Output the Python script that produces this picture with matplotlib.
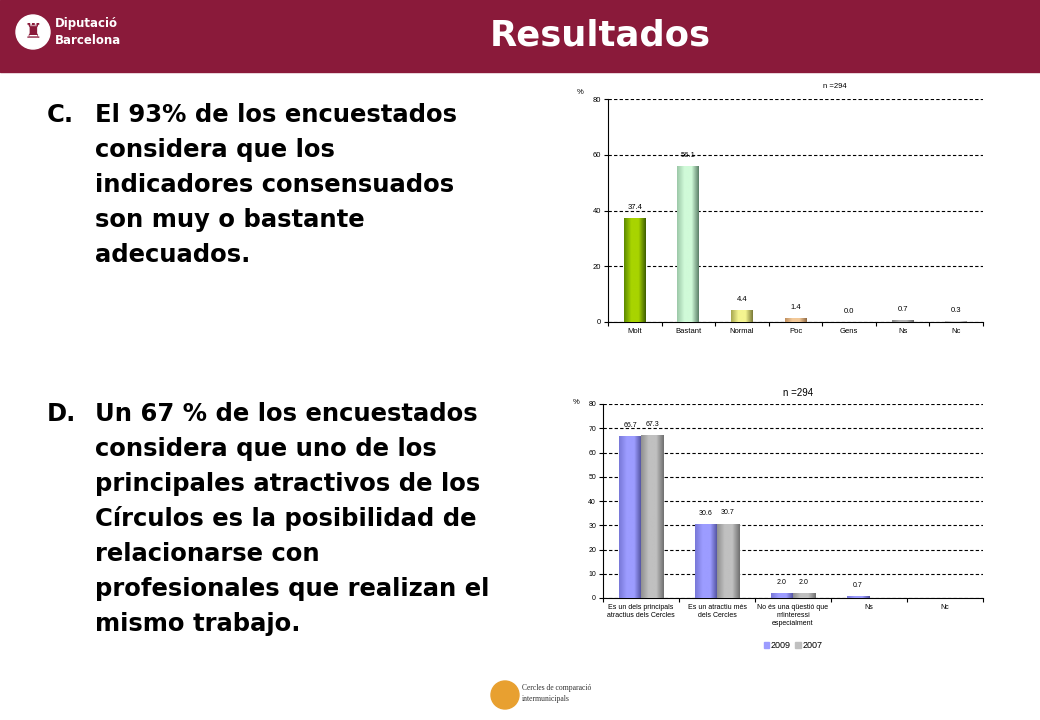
import numpy as np
import matplotlib
matplotlib.use("Agg")
import matplotlib.pyplot as plt
from matplotlib.colors import LinearSegmentedColormap
from matplotlib.patches import Rectangle, Circle

plt.rcParams["font.family"] = ["Liberation Sans", "DejaVu Sans"]

W, H = 1040, 720

# --- data ---
adec_cats = ["Molt", "Bastant", "Normal", "Poc", "Gens", "Ns", "Nc"]
adec_vals = [37.4, 56.1, 4.4, 1.4, 0.0, 0.7, 0.3]
adec_labels = ["37.4", "56.1", "4.4", "1.4", "0.0", "0.7", "0.3"]

atr_cats = ["Es un dels principals\natractius dels Cercles",
            "Es un atractiu més\ndels Cercles",
            "No és una qüestió que\nm'interessi\nespecialment",
            "Ns", "Nc"]
atr_2009 = [66.7, 30.6, 2.0, 0.7, np.nan]
atr_2007 = [67.3, 30.7, 2.0, np.nan, np.nan]

text_c = ["El 93% de los encuestados",
          "considera que los",
          "indicadores consensuados",
          "son muy o bastante",
          "adecuados."]
text_d = ["Un 67 % de los encuestados",
          "considera que uno de los",
          "principales atractivos de los",
          "Círculos es la posibilidad de",
          "relacionarse con",
          "profesionales que realizan el",
          "mismo trabajo."]

# gradient colours (left edge, centre, right edge) per bar
adec_colors = [("#5c8a00", "#a8d400", "#3e5e00"),
               ("#9cc8a8", "#d0fad8", "#5c8068"),
               ("#a8a850", "#f4f490", "#7a7a38"),
               ("#c09060", "#f2c898", "#906a44"),
               ("#909090", "#c0c0c0", "#707070"),
               ("#808080", "#b0b0b0", "#606060"),
               ("#b0b0b0", "#d8d8d8", "#909090")]
col_2009 = ("#7878d8", "#9c9cff", "#4c4c98")
col_2007 = ("#909090", "#c0c0c0", "#707070")

BIG = ["DejaVu Sans"]


def px_axes(fig, left, top, right, bottom):
    return fig.add_axes([left / W, 1 - bottom / H, (right - left) / W, (bottom - top) / H])


def grad_bars(ax, x, vals, width, colors):
    for xi, v, c in zip(x, vals, colors):
        if np.isnan(v) or v <= 0:
            continue
        cmap = LinearSegmentedColormap.from_list("g", [c[0], c[1], c[1], c[2]])
        bar = ax.bar(xi, v, width, color=c[1], zorder=3)[0]
        im = ax.imshow(np.linspace(0, 1, 64).reshape(1, -1), cmap=cmap, aspect="auto",
                       extent=[xi - width / 2, xi + width / 2, 0, v], zorder=3.5)
        im.set_clip_path(bar)


def style_axes(ax, n, ymax, step, fs):
    ax.set_xlim(-0.5, n - 0.5)
    ax.set_ylim(0, ymax)
    ax.set_yticks(np.arange(0, ymax + 1, step))
    ax.yaxis.grid(True, linestyle=(0, (3, 2)), color="black", linewidth=0.8)
    ax.set_axisbelow(True)
    for s in ["top", "right"]:
        ax.spines[s].set_visible(False)
    ax.spines["left"].set_linewidth(0.8)
    ax.spines["bottom"].set_linewidth(0.8)
    ax.set_xticks(np.arange(n))
    ax.set_xticks(np.arange(-0.5, n), minor=True)
    ax.tick_params(axis="x", which="major", length=0, labelsize=fs, pad=4)
    ax.tick_params(axis="x", which="minor", length=3, width=0.8, direction="out")
    ax.tick_params(axis="y", length=3, width=0.8, labelsize=fs, pad=2)


def px_circle(fig, cx, cy, r, color):
    # centre and radius in pixels, so it stays round
    c = Circle((cx / 100, (H - cy) / 100), r / 100, transform=fig.dpi_scale_trans,
               color=color, zorder=1)
    fig.patches.append(c)


fig = plt.figure(figsize=(W / 100, H / 100), dpi=100)
fig.patch.set_facecolor("white")

# header band
fig.patches.append(Rectangle((0, 1 - 72 / H), 1, 72 / H, transform=fig.transFigure,
                             color="#8a1a3a", zorder=0))
fig.text(600 / W, 1 - 35 / H, "Resultados", color="white", fontsize=25.5,
         fontweight="bold", ha="center", va="center", family=BIG)
px_circle(fig, 33, 32, 17, "white")
fig.text(33 / W, 1 - 32 / H, "♜", color="#8a1a3a", fontsize=15, ha="center", va="center",
         family=["DejaVu Sans"])
fig.text(55 / W, 1 - 24 / H, "Diputació", color="white", fontsize=8.5,
         fontweight="bold", va="center", family=BIG)
fig.text(55 / W, 1 - 41 / H, "Barcelona", color="white", fontsize=8.5,
         fontweight="bold", va="center", family=BIG)

# left text blocks
FS = 17.5
for i, line in enumerate(text_c):
    if i == 0:
        fig.text(47 / W, 1 - 122 / H, "C.", fontsize=FS, fontweight="bold", va="baseline",
                 family=BIG)
    fig.text(95 / W, 1 - (122 + 35 * i) / H, line, fontsize=FS, fontweight="bold",
             va="baseline", family=BIG)
for i, line in enumerate(text_d):
    if i == 0:
        fig.text(47 / W, 1 - 421 / H, "D.", fontsize=FS, fontweight="bold", va="baseline",
                 family=BIG)
    fig.text(95 / W, 1 - (421 + 35 * i) / H, line, fontsize=FS, fontweight="bold",
             va="baseline", family=BIG)

# top chart
ax1 = px_axes(fig, 608, 99, 983, 322)
x1 = np.arange(len(adec_cats))
grad_bars(ax1, x1, adec_vals, 0.41, adec_colors)
style_axes(ax1, len(adec_cats), 80, 20, 5.5)
ax1.set_xticklabels(adec_cats)
for xi, v, lab in zip(x1, adec_vals, adec_labels):
    ax1.text(xi, v + 2.5, lab, ha="center", va="bottom", fontsize=5.5)
fig.text(580 / W, 1 - 92 / H, "%", fontsize=5.5, ha="center", va="center")
fig.text(835 / W, 1 - 87 / H, "n =294", fontsize=5.5, ha="center", va="center")

# bottom chart
ax2 = px_axes(fig, 603, 404, 983, 598)
x2 = np.arange(len(atr_cats))
bw = 0.29
grad_bars(ax2, x2 - bw / 2, atr_2009, bw, [col_2009] * len(x2))
grad_bars(ax2, x2 + bw / 2, atr_2007, bw, [col_2007] * len(x2))
style_axes(ax2, len(atr_cats), 80, 10, 5)
ax2.set_xticklabels(atr_cats)
for xi, a, b in zip(x2, atr_2009, atr_2007):
    if not np.isnan(a):
        ax2.text(xi - bw / 2, a + 3, f"{a:.1f}", ha="center", va="bottom", fontsize=5)
    if not np.isnan(b):
        ax2.text(xi + bw / 2, b + 3, f"{b:.1f}", ha="center", va="bottom", fontsize=5)
fig.text(576 / W, 1 - 403 / H, "%", fontsize=5.5, ha="center", va="center")
fig.text(798 / W, 1 - 393 / H, "n =294", fontsize=7, ha="center", va="center")
h09 = Rectangle((0, 0), 1, 1, color=col_2009[1])
h07 = Rectangle((0, 0), 1, 1, color=col_2007[1])
fig.legend([h09, h07], ["2009", "2007"], loc="center", bbox_to_anchor=(793 / W, 1 - 646 / H),
           ncol=2, frameon=False, fontsize=6.5, handlelength=0.6, handleheight=0.6,
           handletextpad=0.2, columnspacing=0.5)

# footer logo
px_circle(fig, 505, 695, 14, "#e8a030")
fig.text(522 / W, 1 - 688 / H, "Cercles de comparació", fontsize=5.5, family="Liberation Serif",
         color="#333333", va="center")
fig.text(522 / W, 1 - 699 / H, "intermunicipals", fontsize=5.5, family="Liberation Serif",
         color="#333333", va="center")

fig.savefig("out.png", dpi=100)
